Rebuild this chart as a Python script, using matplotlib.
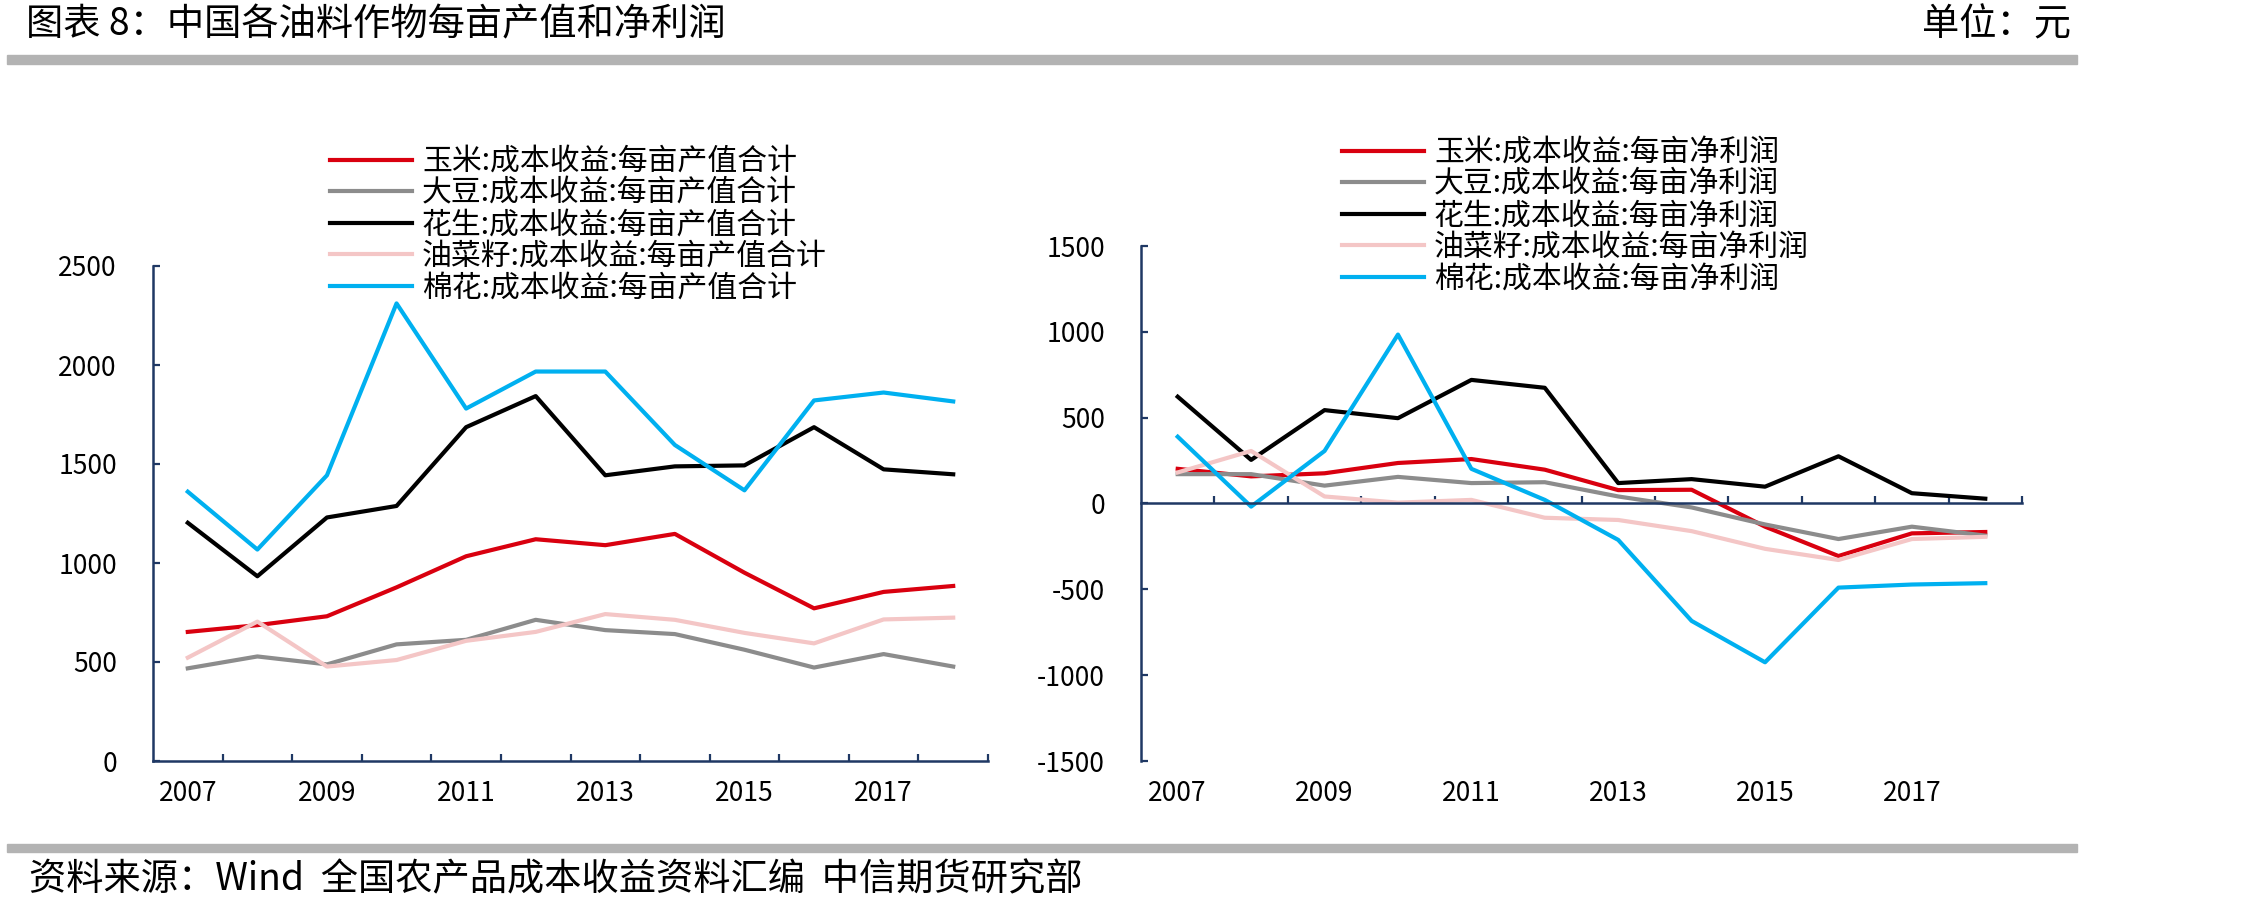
import numpy as np
import matplotlib
matplotlib.use("Agg")
import matplotlib.pyplot as plt
from matplotlib.patches import Rectangle

plt.rcParams['font.family'] = ['Noto Sans CJK SC', 'DejaVu Sans']
plt.rcParams['axes.unicode_minus'] = False

years = [2007, 2008, 2009, 2010, 2011, 2012, 2013, 2014, 2015, 2016, 2017, 2018]
crops = ["玉米", "大豆", "花生", "油菜籽", "棉花"]
colors = ["#D9000F", "#8C8C8C", "#000000", "#F4C6C6", "#00B0F0"]

# 每亩产值合计
corn_value = [652, 686, 731, 877, 1034, 1120, 1090, 1147, 951, 771, 854, 884]
soy_value = [468, 528, 488, 589, 612, 713, 661, 641, 562, 472, 540, 477]
peanut_value = [1203, 933, 1230, 1288, 1686, 1843, 1443, 1488, 1493, 1686, 1473, 1448]
rape_value = [522, 704, 477, 510, 607, 652, 742, 713, 647, 594, 715, 724]
cotton_value = [1360, 1068, 1443, 2311, 1780, 1967, 1967, 1596, 1367, 1821, 1861, 1816]

# 每亩净利润
corn_profit = [202, 158, 176, 236, 259, 197, 78, 80, -135, -306, -174, -166]
soy_profit = [171, 171, 104, 155, 119, 124, 41, -23, -122, -207, -135, -187]
peanut_profit = [622, 254, 544, 497, 720, 674, 119, 142, 98, 275, 60, 28]
rape_profit = [181, 306, 41, 5, 21, -83, -96, -161, -264, -329, -207, -194]
cotton_profit = [389, -18, 306, 984, 202, 21, -212, -684, -925, -490, -472, -464]

value_series = [corn_value, soy_value, peanut_value, rape_value, cotton_value]
profit_series = [corn_profit, soy_profit, peanut_profit, rape_profit, cotton_profit]

axis_color = "#1F3864"
W, H = 2268, 913
fig = plt.figure(figsize=(W / 100, H / 100), dpi=100)

ax1 = fig.add_axes([153 / W, 1 - 761 / H, 835 / W, 495 / H])
ax2 = fig.add_axes([1141 / W, 1 - 761 / H, 881 / W, 515 / H])


def style_axis(ax, ylim, yticks):
    ax.set_xlim(years[0] - 0.5, years[-1] + 0.5)
    ax.set_ylim(*ylim)
    ax.set_yticks(yticks)
    for s in ["top", "right"]:
        ax.spines[s].set_visible(False)
    for s in ["left", "bottom"]:
        ax.spines[s].set_color(axis_color)
        ax.spines[s].set_linewidth(1.8)
    ax.set_xticks([y + 0.5 for y in years])
    ax.set_xticklabels([])
    ax.tick_params(axis="x", direction="in", length=5, width=1.6, color=axis_color)
    ax.tick_params(axis="y", direction="in", length=5, width=1.6, color=axis_color,
                   labelsize=19, pad=26)
    sec = ax.secondary_xaxis("bottom")
    sec.set_xticks(years[::2])
    sec.set_xticklabels([str(y) for y in years[::2]])
    sec.tick_params(length=0, labelsize=19, pad=14)
    sec.spines["bottom"].set_visible(False)


style_axis(ax1, (0, 2500), [0, 500, 1000, 1500, 2000, 2500])
style_axis(ax2, (-1500, 1500), [-1500, -1000, -500, 0, 500, 1000, 1500])
ax2.spines["bottom"].set_position(("data", 0))
ax2.set_yticklabels(["-1500", "-1000", "-500", "0", "500", "1000", "1500"])

for crop, vals, c in zip(crops, value_series, colors):
    ax1.plot(years, vals, color=c, lw=3, label=f"{crop}:成本收益:每亩产值合计")
for crop, vals, c in zip(crops, profit_series, colors):
    ax2.plot(years, vals, color=c, lw=3, label=f"{crop}:成本收益:每亩净利润")

leg_kw = dict(bbox_transform=fig.transFigure, loc="upper left", frameon=False, fontsize=21.5,
              borderpad=0, borderaxespad=0, labelspacing=0.02, handlelength=2.75,
              handletextpad=0.33)
ax1.legend(bbox_to_anchor=(330 / W, 1 - 146 / H), **leg_kw)
ax2.legend(bbox_to_anchor=(1342 / W, 1 - 137 / H), **leg_kw)

# header / footer
fig.text(26 / W, 1 - 25 / H, "图表 8：中国各油料作物每亩产值和净利润", fontsize=26.8, va="center", ha="left")
fig.text(2071 / W, 1 - 25 / H, "单位：元", fontsize=26.8, va="center", ha="right")
fig.patches.append(Rectangle((7 / W, 1 - 64 / H), 2070 / W, 9 / H, transform=fig.transFigure,
                             color="#B3B3B3", zorder=0))
fig.patches.append(Rectangle((7 / W, 1 - 852 / H), 2070 / W, 8 / H, transform=fig.transFigure,
                             color="#B3B3B3", zorder=0))
fig.text(29 / W, 1 - 880 / H, "资料来源：Wind  全国农产品成本收益资料汇编  中信期货研究部", fontsize=26.8,
         va="center", ha="left")

fig.savefig("out.png", dpi=100)
